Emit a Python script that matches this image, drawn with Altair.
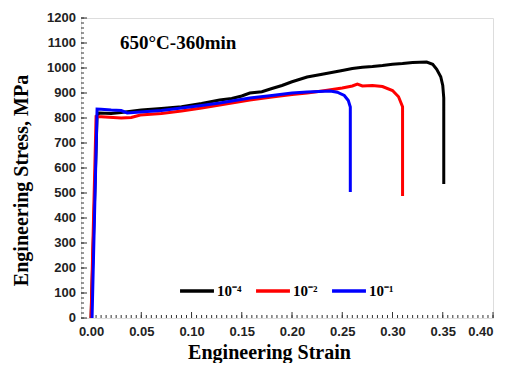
import altair as alt
import pandas as pd
import numpy as np

# ---------------- data ----------------
series_names = ["10⁻⁴", "10⁻²", "10⁻¹"]
series_colors = ["#000000", "#ff0000", "#0000ff"]

strain_1e4 = [0.000, 0.006, 0.008, 0.020, 0.030, 0.050, 0.070, 0.090, 0.110, 0.128, 0.140, 0.150,
              0.158, 0.170, 0.180, 0.190, 0.200, 0.215, 0.230, 0.250, 0.260, 0.270, 0.280, 0.290,
              0.300, 0.310, 0.320, 0.334, 0.340, 0.344, 0.348, 0.350, 0.351, 0.351]
stress_1e4 = [0, 810, 820, 818, 822, 832, 838, 845, 858, 872, 878, 888,
              900, 905, 918, 930, 945, 964, 975, 990, 998, 1003, 1006, 1010,
              1015, 1018, 1022, 1024, 1015, 995, 965, 930, 880, 536]

strain_1e2 = [0.000, 0.005, 0.010, 0.030, 0.040, 0.049, 0.070, 0.090, 0.110, 0.128, 0.158, 0.180,
              0.200, 0.215, 0.230, 0.250, 0.260, 0.265, 0.270, 0.280, 0.290, 0.300, 0.306, 0.310, 0.310]
stress_1e2 = [0, 805, 805, 800, 802, 812, 818, 828, 840, 852, 872, 884,
              894, 900, 908, 920, 928, 936, 928, 930, 926, 910, 885, 845, 488]

strain_1e1 = [0.001, 0.006, 0.010, 0.020, 0.030, 0.036, 0.049, 0.070, 0.090, 0.110, 0.128, 0.158,
              0.180, 0.200, 0.215, 0.238, 0.245, 0.252, 0.256, 0.258, 0.258]
stress_1e1 = [0, 836, 835, 832, 830, 820, 824, 830, 840, 850, 860, 880,
              890, 900, 904, 908, 903, 890, 870, 844, 504]

x_tick_labels = [0.00, 0.05, 0.10, 0.15, 0.20, 0.25, 0.30, 0.35, 0.40]
y_tick_labels = [0, 100, 200, 300, 400, 500, 600, 700, 800, 900, 1000, 1100, 1200]
x_minor = list(np.round(np.arange(0.0, 0.4001, 0.005), 3))
y_minor = list(range(0, 1201, 20))

note_text = ["650°C-360min"]
note_x = [0.0288]
note_y = [1076]

# ---------------- tables ----------------
rows = []
for name, xs, ys in zip(series_names, [strain_1e4, strain_1e2, strain_1e1],
                        [stress_1e4, stress_1e2, stress_1e1]):
    for i, (a, b) in enumerate(zip(xs, ys)):
        rows.append({"rate": name, "strain": a, "stress": b, "idx": i})
df = pd.DataFrame(rows)

xscale = alt.Scale(domain=[-0.01, 0.40], nice=False, zero=False)
yscale = alt.Scale(domain=[0, 1200], nice=False)

x_axis = alt.Axis(values=x_tick_labels, format=".2f", ticks=False, domain=False, grid=False,
                  labelOverlap=False,
                  labelFont="Liberation Sans", labelFontWeight="bold", labelFontSize=13,
                  labelColor="#222222", labelPadding=7,
                  title="Engineering Strain", titleFont="Liberation Serif", titleFontSize=20,
                  titleFontWeight="bold", titleColor="#000000", titleX=188, titleY=40,
                  titleBaseline="alphabetic", titleAlign="center")
y_axis = alt.Axis(labels=False, ticks=False, domain=False, grid=False,
                  title="Engineering Stress, MPa", titleFont="Liberation Serif", titleFontSize=20,
                  titleFontWeight="bold", titleColor="#000000", titleX=-54, titleY=162,
                  titleAngle=270, titleBaseline="alphabetic", titleAlign="center")

lines = alt.Chart(df).mark_line(strokeWidth=3).encode(
    x=alt.X("strain:Q", scale=xscale, axis=x_axis),
    y=alt.Y("stress:Q", scale=yscale, axis=y_axis),
    color=alt.Color("rate:N",
                    scale=alt.Scale(domain=series_names, range=series_colors),
                    legend=alt.Legend(orient="none", legendX=97, legendY=254,
                                      direction="horizontal", title=None,
                                      symbolType="stroke", symbolStrokeWidth=3.5,
                                      symbolSize=1150, labelFont="Liberation Serif",
                                      labelFontSize=15, labelFontWeight="bold",
                                      labelColor="#000000", labelOffset=1,
                                      columnPadding=7, padding=0)),
    order="idx:Q",
)

xmin_df = pd.DataFrame({"v": x_minor})
xmaj_df = pd.DataFrame({"v": x_tick_labels})
ymin_df = pd.DataFrame({"v": y_minor})
ymaj_df = pd.DataFrame({"v": y_tick_labels, "t": [str(v) for v in y_tick_labels]})

xminor = alt.Chart(xmin_df).mark_rule(color="#333333", strokeWidth=1).encode(
    x=alt.X("v:Q", scale=xscale, axis=x_axis), y=alt.datum(0), y2=alt.datum(12))
xmajor = alt.Chart(xmaj_df).mark_rule(color="#333333", strokeWidth=1).encode(
    x=alt.X("v:Q", scale=xscale, axis=x_axis), y=alt.datum(0), y2=alt.datum(24))
yminor = alt.Chart(ymin_df).mark_rule(color="#333333", strokeWidth=1).encode(
    y=alt.Y("v:Q", scale=yscale, axis=y_axis), x=alt.datum(-0.01), x2=alt.datum(-0.007))
ymajor = alt.Chart(ymaj_df).mark_rule(color="#333333", strokeWidth=1).encode(
    y=alt.Y("v:Q", scale=yscale, axis=y_axis), x=alt.datum(-0.01), x2=alt.datum(-0.004))
ylabels = alt.Chart(ymaj_df).mark_text(font="Liberation Sans", fontWeight="bold", fontSize=13,
                                       color="#222222", align="right", baseline="middle",
                                       dx=-5, clip=False).encode(
    y=alt.Y("v:Q", scale=yscale, axis=y_axis), x=alt.datum(-0.01), text="t:N")

note_df = pd.DataFrame({"t": note_text, "x": note_x, "y": note_y})
note = alt.Chart(note_df).mark_text(font="Liberation Serif", fontSize=19, fontWeight="bold",
                                    align="left", baseline="alphabetic", color="#000000").encode(
    x=alt.X("x:Q", scale=xscale, axis=x_axis), y=alt.Y("y:Q", scale=yscale, axis=y_axis), text="t:N")

chart = alt.layer(xminor, xmajor, yminor, ymajor, ylabels, lines, note).properties(
    width=412, height=300,
    autosize=alt.AutoSizeParams(type="none"),
    padding={"left": 73, "top": 10, "right": 6, "bottom": 45},
).configure_view(stroke="#000000", strokeWidth=1.5).configure(background="#ffffff")

chart.save("out.html", embed_options={"renderer": "svg", "actions": False})
